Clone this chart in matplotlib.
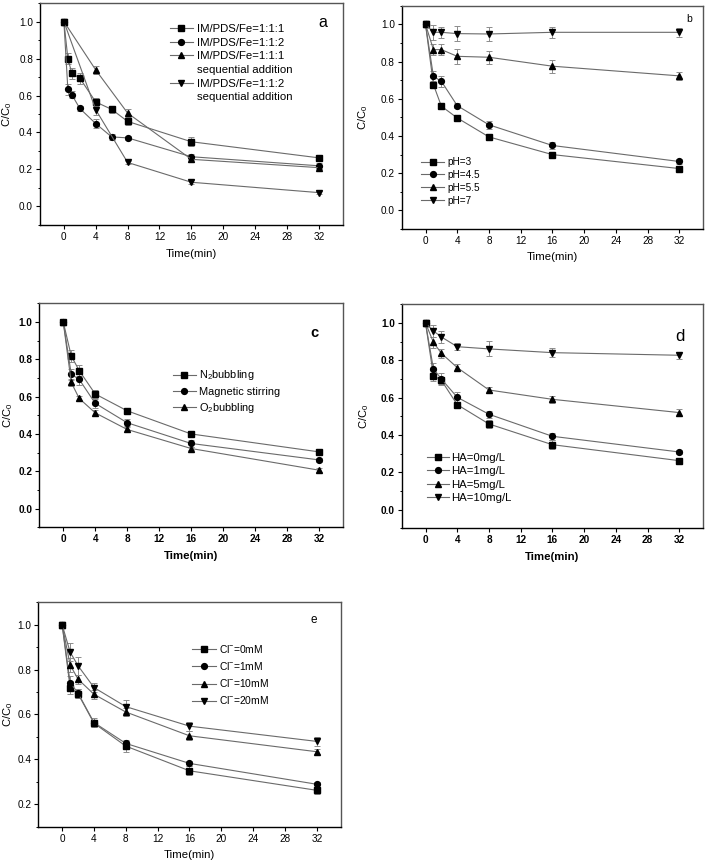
import matplotlib
matplotlib.use('Agg')
import matplotlib.pyplot as plt
from matplotlib.lines import Line2D
from matplotlib.ticker import MultipleLocator, FormatStrFormatter

plt.rcParams['font.family'] = ['Liberation Sans', 'DejaVu Sans']
plt.rcParams['mathtext.fontset'] = 'custom'
plt.rcParams['mathtext.rm'] = 'Liberation Sans'
plt.rcParams['mathtext.it'] = 'Liberation Sans:italic'
plt.rcParams['mathtext.bf'] = 'Liberation Sans:bold'

# ---- panel a: IM/PDS/Fe ratio and dosing mode ----
t_a = [0, 0.5, 1, 2, 4, 6, 8, 16, 32]
t_a_seq = [0, 4, 8, 16, 32]
a_111 = [1.0, 0.80, 0.72, 0.694, 0.565, 0.525, 0.46, 0.35, 0.263]
a_111_err = [0.0, 0.03, 0.03, 0.03, 0.02, 0.02, 0.02, 0.025, 0.015]
a_112 = [1.0, 0.633, 0.604, 0.53, 0.448, 0.376, 0.371, 0.269, 0.22]
a_112_err = [0.0, 0.03, 0.02, 0.015, 0.025, 0.015, 0.01, 0.015, 0.015]
a_111_seq = [1.0, 0.738, 0.505, 0.255, 0.21]
a_111_seq_err = [0.0, 0.02, 0.02, 0.015, 0.01]
a_112_seq = [1.0, 0.523, 0.238, 0.131, 0.075]
a_112_seq_err = [0.0, 0.03, 0.01, 0.01, 0.01]

# ---- panel b: pH ----
t_b = [0, 1, 2, 4, 8, 16, 32]
ph3 = [1.0, 0.676, 0.56, 0.497, 0.395, 0.30, 0.225]
ph3_err = [0.0, 0.02, 0.01, 0.01, 0.01, 0.01, 0.01]
ph45 = [1.0, 0.72, 0.694, 0.563, 0.46, 0.349, 0.263]
ph45_err = [0.0, 0.03, 0.03, 0.015, 0.02, 0.02, 0.015]
ph55 = [1.0, 0.864, 0.864, 0.828, 0.823, 0.775, 0.723]
ph55_err = [0.0, 0.03, 0.03, 0.04, 0.035, 0.035, 0.02]
ph7 = [1.0, 0.957, 0.957, 0.95, 0.948, 0.957, 0.957]
ph7_err = [0.0, 0.04, 0.03, 0.04, 0.035, 0.03, 0.025]

# ---- panel c: atmosphere ----
t_c = [0, 1, 2, 4, 8, 16, 32]
n2 = [1.0, 0.818, 0.739, 0.614, 0.524, 0.40, 0.304]
n2_err = [0.0, 0.03, 0.03, 0.02, 0.015, 0.01, 0.01]
mag = [1.0, 0.72, 0.692, 0.564, 0.46, 0.349, 0.261]
mag_err = [0.0, 0.03, 0.03, 0.025, 0.02, 0.02, 0.01]
o2 = [1.0, 0.676, 0.59, 0.513, 0.424, 0.322, 0.206]
o2_err = [0.0, 0.02, 0.015, 0.015, 0.015, 0.01, 0.01]

# ---- panel d: humic acid ----
t_d = [0, 1, 2, 4, 8, 16, 32]
ha0 = [1.0, 0.718, 0.693, 0.5625, 0.459, 0.348, 0.2625]
ha0_err = [0.0, 0.03, 0.02, 0.015, 0.02, 0.025, 0.01]
ha1 = [1.0, 0.754, 0.70, 0.602, 0.511, 0.393, 0.309]
ha1_err = [0.0, 0.03, 0.03, 0.03, 0.02, 0.02, 0.01]
ha5 = [1.0, 0.896, 0.8375, 0.761, 0.641, 0.591, 0.52]
ha5_err = [0.0, 0.03, 0.025, 0.02, 0.015, 0.02, 0.02]
ha10 = [1.0, 0.957, 0.925, 0.873, 0.861, 0.841, 0.827]
ha10_err = [0.0, 0.03, 0.03, 0.02, 0.04, 0.025, 0.02]

# ---- panel e: chloride ----
t_e = [0, 1, 2, 4, 8, 16, 32]
cl0 = [1.0, 0.72, 0.692, 0.561, 0.459, 0.349, 0.262]
cl0_err = [0.0, 0.03, 0.02, 0.015, 0.025, 0.02, 0.015]
cl1 = [1.0, 0.742, 0.695, 0.564, 0.471, 0.382, 0.289]
cl1_err = [0.0, 0.03, 0.02, 0.02, 0.015, 0.01, 0.01]
cl10 = [1.0, 0.821, 0.757, 0.69, 0.611, 0.505, 0.434]
cl10_err = [0.0, 0.03, 0.02, 0.02, 0.02, 0.02, 0.01]
cl20 = [1.0, 0.878, 0.817, 0.72, 0.635, 0.548, 0.48]
cl20_err = [0.0, 0.04, 0.04, 0.02, 0.03, 0.02, 0.02]

LINE = '#6a6a6a'
ERR = '#8c8c8c'
markers = ['s', 'o', '^', 'v']


def draw(ax, x, y, err, m, label=None):
    ax.errorbar(x, y, yerr=err, fmt='none', ecolor=ERR, elinewidth=0.7,
                capsize=2, capthick=0.7, zorder=2)
    ax.plot(x, y, color=LINE, lw=0.8, marker=m, ms=4.2, mfc='black',
            mec='black', label=label, zorder=3)


def style(ax, ymin, bold=False):
    w = 'bold' if bold else 'normal'
    ax.set_xlim(-3, 35)
    ax.set_ylim(ymin, 1.1)
    ax.set_xticks([0, 4, 8, 12, 16, 20, 24, 28, 32])
    ax.yaxis.set_major_locator(MultipleLocator(0.2))
    ax.yaxis.set_minor_locator(MultipleLocator(0.1))
    ax.yaxis.set_major_formatter(FormatStrFormatter('%.1f'))
    ax.tick_params(which='major', direction='out', length=3, width=0.8,
                   labelsize=7.2, pad=2)
    ax.tick_params(which='minor', direction='out', length=1.6, width=0.7)
    ax.tick_params(axis='x', which='minor', bottom=False)
    for lab in ax.get_xticklabels() + ax.get_yticklabels():
        lab.set_fontweight(w)
    for s in ['left', 'bottom']:
        ax.spines[s].set_color('black')
        ax.spines[s].set_linewidth(1.0)
    for s in ['top', 'right']:
        ax.spines[s].set_color('#555555')
        ax.spines[s].set_linewidth(1.0)
    ax.set_xlabel('Time(min)', fontsize=8.2, fontweight=w)
    ax.set_ylabel('C/C$_0$', fontsize=8)


fig = plt.figure(figsize=(7.09, 8.63), dpi=100)

ax_a = fig.add_axes([0.0564, 0.7393, 0.427, 0.2572])
ax_b = fig.add_axes([0.5666, 0.7346, 0.425, 0.2588])
ax_c = fig.add_axes([0.0554, 0.389, 0.4283, 0.2596])
ax_d = fig.add_axes([0.5666, 0.3878, 0.425, 0.2596])
ax_e = fig.add_axes([0.054, 0.0421, 0.4265, 0.26])

# panel a
draw(ax_a, t_a, a_111, a_111_err, 's')
draw(ax_a, t_a, a_112, a_112_err, 'o')
draw(ax_a, t_a_seq, a_111_seq, a_111_seq_err, '^')
draw(ax_a, t_a_seq, a_112_seq, a_112_seq_err, 'v')
style(ax_a, -0.1)
blank = Line2D([], [], linestyle='none')
h = [Line2D([], [], color=LINE, lw=0.8, marker=m, ms=4.2, mfc='black', mec='black')
     for m in markers]
ax_a.legend([h[0], h[1], h[2], blank, h[3], blank],
            ['IM/PDS/Fe=1:1:1', 'IM/PDS/Fe=1:1:2', 'IM/PDS/Fe=1:1:1',
             'sequential addition', 'IM/PDS/Fe=1:1:2', 'sequential addition'],
            loc='upper left', bbox_to_anchor=(0.429, 0.905), frameon=False,
            fontsize=8.2, handlelength=2.0, handletextpad=0.35,
            borderpad=0, borderaxespad=0, labelspacing=0.32)
ax_a.text(0.934, 0.911, 'a', transform=ax_a.transAxes, fontsize=11.5,
          ha='center', va='center')
ax_a.yaxis.set_label_coords(-0.086, 0.5)
ax_a.xaxis.set_label_coords(0.5, -0.11)

# panel b
for y, e, m, lab in zip([ph3, ph45, ph55, ph7], [ph3_err, ph45_err, ph55_err, ph7_err],
                        markers, ['pH=3', 'pH=4.5', 'pH=5.5', 'pH=7']):
    draw(ax_b, t_b, y, e, m, lab)
style(ax_b, -0.1)
ax_b.legend(loc='upper left', bbox_to_anchor=(0.064, 0.322), frameon=False,
            fontsize=7.2, handlelength=2.3, handletextpad=0.3,
            borderpad=0, borderaxespad=0, labelspacing=0.28)
ax_b.text(0.955, 0.939, 'b', transform=ax_b.transAxes, fontsize=7.5,
          ha='center', va='center')
ax_b.yaxis.set_label_coords(-0.105, 0.5)
ax_b.xaxis.set_label_coords(0.5, -0.105)

# panel c
for y, e, m, lab in zip([n2, mag, o2], [n2_err, mag_err, o2_err], markers,
                        ['N$_2$bubbling', 'Magnetic stirring', 'O$_2$bubbling']):
    draw(ax_c, t_c, y, e, m, lab)
style(ax_c, -0.1, bold=True)
ax_c.legend(loc='upper left', bbox_to_anchor=(0.44, 0.709), frameon=False,
            fontsize=7.9, handlelength=2.1, handletextpad=0.3,
            borderpad=0, borderaxespad=0, labelspacing=0.4)
ax_c.text(0.905, 0.866, 'c', transform=ax_c.transAxes, fontsize=10.5,
          fontweight='bold', ha='center', va='center')
ax_c.yaxis.set_label_coords(-0.08, 0.5)
ax_c.xaxis.set_label_coords(0.5, -0.107)

# panel d
for y, e, m, lab in zip([ha0, ha1, ha5, ha10], [ha0_err, ha1_err, ha5_err, ha10_err],
                        markers, ['HA=0mg/L', 'HA=1mg/L', 'HA=5mg/L', 'HA=10mg/L']):
    draw(ax_d, t_d, y, e, m, lab)
style(ax_d, -0.1, bold=True)
ax_d.legend(loc='upper left', bbox_to_anchor=(0.084, 0.335), frameon=False,
            fontsize=8.2, handlelength=1.9, handletextpad=0.25,
            borderpad=0, borderaxespad=0, labelspacing=0.28)
ax_d.text(0.924, 0.855, 'd', transform=ax_d.transAxes, fontsize=12,
          ha='center', va='center')
ax_d.yaxis.set_label_coords(-0.103, 0.5)
ax_d.xaxis.set_label_coords(0.5, -0.107)

# panel e
for y, e, m, lab in zip([cl0, cl1, cl10, cl20], [cl0_err, cl1_err, cl10_err, cl20_err],
                        markers, ['Cl$^{-}$=0mM', 'Cl$^{-}$=1mM', 'Cl$^{-}$=10mM',
                                  'Cl$^{-}$=20mM']):
    draw(ax_e, t_e, y, e, m, lab)
style(ax_e, 0.1)
ax_e.legend(loc='upper left', bbox_to_anchor=(0.509, 0.819), frameon=False,
            fontsize=7.4, handlelength=2.3, handletextpad=0.3,
            borderpad=0, borderaxespad=0, labelspacing=0.5)
ax_e.text(0.912, 0.921, 'e', transform=ax_e.transAxes, fontsize=8.5,
          ha='center', va='center')
ax_e.yaxis.set_label_coords(-0.078, 0.5)
ax_e.xaxis.set_label_coords(0.5, -0.105)

fig.savefig('out.png', dpi=100)
